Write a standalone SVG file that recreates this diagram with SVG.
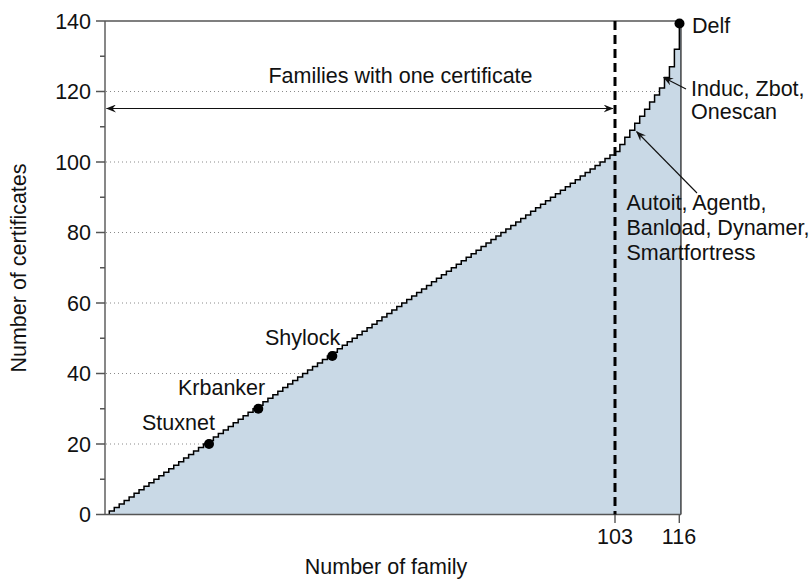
<svg xmlns="http://www.w3.org/2000/svg" width="810" height="579" viewBox="0 0 810 579">
<style>
text{font-family:"Liberation Sans",Arial,Helvetica,sans-serif;font-size:21.5px;fill:#111}
.ylab{text-anchor:end}
.mid{text-anchor:middle}
.axis{stroke:#555;stroke-width:1.4;fill:none}
.grid{stroke:#8a8a8a;stroke-width:1;stroke-dasharray:1 3;fill:none}
.arr{stroke:#111;stroke-width:1.1;fill:none}
.dot{fill:#000}
</style>
<defs>
<marker id="ah" viewBox="0 0 10 8" refX="9.5" refY="4" markerWidth="10" markerHeight="8" markerUnits="userSpaceOnUse" orient="auto-start-reverse">
<path d="M10,4 L0,0 L3.5,4 L0,8 Z" fill="#111"/>
</marker>
<clipPath id="stairclip"><rect x="0" y="0" width="680.2" height="579"/></clipPath>
<path id="stair" d="M109.3,514.5
v-3.525h4.957v-3.525h4.957v-3.525h4.957v-3.525h4.957v-3.525h4.957v-3.525h4.957v-3.525h4.957v-3.525h4.957v-3.525h4.957v-3.525h4.957
v-3.525h4.957v-3.525h4.957v-3.525h4.957v-3.525h4.957v-3.525h4.957v-3.525h4.957v-3.525h4.957v-3.525h4.957v-3.525h4.957v-3.525h4.957
v-3.525h4.957v-3.525h4.957v-3.525h4.957v-3.525h4.957v-3.525h4.957v-3.525h4.957v-3.525h4.957v-3.525h4.957v-3.525h4.957v-3.525h4.957
v-3.525h4.957v-3.525h4.957v-3.525h4.957v-3.525h4.957v-3.525h4.957v-3.525h4.957v-3.525h4.957v-3.525h4.957v-3.525h4.957v-3.525h4.957
v-3.525h4.957v-3.525h4.957v-3.525h4.957v-3.525h4.957v-3.525h4.957v-3.525h4.957v-3.525h4.957v-3.525h4.957v-3.525h4.957v-3.525h4.957
v-3.525h4.957v-3.525h4.957v-3.525h4.957v-3.525h4.957v-3.525h4.957v-3.525h4.957v-3.525h4.957v-3.525h4.957v-3.525h4.957v-3.525h4.957
v-3.525h4.957v-3.525h4.957v-3.525h4.957v-3.525h4.957v-3.525h4.957v-3.525h4.957v-3.525h4.957v-3.525h4.957v-3.525h4.957v-3.525h4.957
v-3.525h4.957v-3.525h4.957v-3.525h4.957v-3.525h4.957v-3.525h4.957v-3.525h4.957v-3.525h4.957v-3.525h4.957v-3.525h4.957v-3.525h4.957
v-3.525h4.957v-3.525h4.957v-3.525h4.957v-3.525h4.957v-3.525h4.957v-3.525h4.957v-3.525h4.957v-3.525h4.957v-3.525h4.957v-3.525h4.957
v-3.525h4.957v-3.525h4.957v-3.525h4.957v-3.525h4.957v-3.525h4.957v-3.525h4.957v-3.525h4.957v-3.525h4.957v-3.525h4.957v-3.525h4.957
v-3.525h4.957v-3.525h4.957v-3.525h4.957
v-7.05h4.957v-7.05h4.957v-7.05h4.957v-7.05h4.957v-7.05h4.957v-7.05h4.957v-7.05h4.957v-7.05h4.957v-7.05h4.957
v-10.575h4.957v-10.575h4.957v-17.625h4.957V21H681V514.5"/>
</defs>
<rect width="810" height="579" fill="#fff"/>
<g id="grid">
<path class="grid" d="M106,444H681M106,373.5H681M106,303H681M106,232.5H681M106,162H681M106,91.5H681"/>
</g>
<g id="area">
<use href="#stair" fill="#c9d9e6" stroke="none"/>
<use href="#stair" fill="none" stroke="#000" stroke-width="1.5" clip-path="url(#stairclip)"/>
<line x1="681" y1="21" x2="681" y2="514.5" stroke="#000" stroke-width="1"/>
</g>
<g id="axes">
<path class="axis" d="M105,514.5H681M105,21H681M105,21V514.5"/>
<path class="axis" d="M96,514.5H105M96,444H105M96,373.5H105M96,303H105M96,232.5H105M96,162H105M96,91.5H105M96,21H105"/>
<path class="axis" d="M100,479.25H105M100,408.75H105M100,338.25H105M100,267.75H105M100,197.25H105M100,126.75H105M100,56.25H105"/>
<path class="axis" d="M615,514.5V523M679.3,514.5V523"/>
<text class="ylab" x="91" y="28.5">140</text>
<text class="ylab" x="91" y="99">120</text>
<text class="ylab" x="91" y="169.5">100</text>
<text class="ylab" x="91" y="240">80</text>
<text class="ylab" x="91" y="310.5">60</text>
<text class="ylab" x="91" y="381">40</text>
<text class="ylab" x="91" y="451.5">20</text>
<text class="ylab" x="91" y="522">0</text>
<text class="mid" x="615" y="544">103</text>
<text class="mid" x="679" y="544">116</text>
<text class="mid" x="386" y="574">Number of family</text>
<text class="mid" transform="translate(26,268) rotate(-90)">Number of certificates</text>
</g>
<g id="cutoff">
<line x1="615" y1="21" x2="615" y2="514.5" stroke="#000" stroke-width="3" stroke-dasharray="9 5"/>
</g>
<g id="one-certificate">
<text class="mid" x="400.5" y="83.3">Families with one certificate</text>
</g>
<g id="stuxnet">
<circle class="dot" cx="209" cy="444" r="5"/>
<text x="142" y="430">Stuxnet</text>
</g>
<g id="krbanker">
<circle class="dot" cx="258.3" cy="408.7" r="5"/>
<text x="178" y="395">Krbanker</text>
</g>
<g id="shylock">
<circle class="dot" cx="332.3" cy="356" r="5"/>
<text x="265" y="345">Shylock</text>
</g>
<g id="delf">
<circle class="dot" cx="679.5" cy="23.5" r="5"/>
<text x="692" y="33.3">Delf</text>
</g>
<g id="induc">
<text x="691" y="96.3">Induc, Zbot,</text>
<text x="691" y="119">Onescan</text>
</g>
<g id="autoit">
<text x="626.5" y="210">Autoit, Agentb,</text>
<text x="626.5" y="235">Banload, Dynamer,</text>
<text x="626.5" y="260">Smartfortress</text>
</g>
<g id="connectors">
<line class="arr" x1="106.5" y1="108.5" x2="613" y2="108.5" marker-start="url(#ah)" marker-end="url(#ah)"/>
<line class="arr" x1="686" y1="89" x2="663.5" y2="77.5" marker-end="url(#ah)"/>
<line class="arr" x1="697" y1="193" x2="636.5" y2="131.5" marker-end="url(#ah)"/>
</g>
</svg>
